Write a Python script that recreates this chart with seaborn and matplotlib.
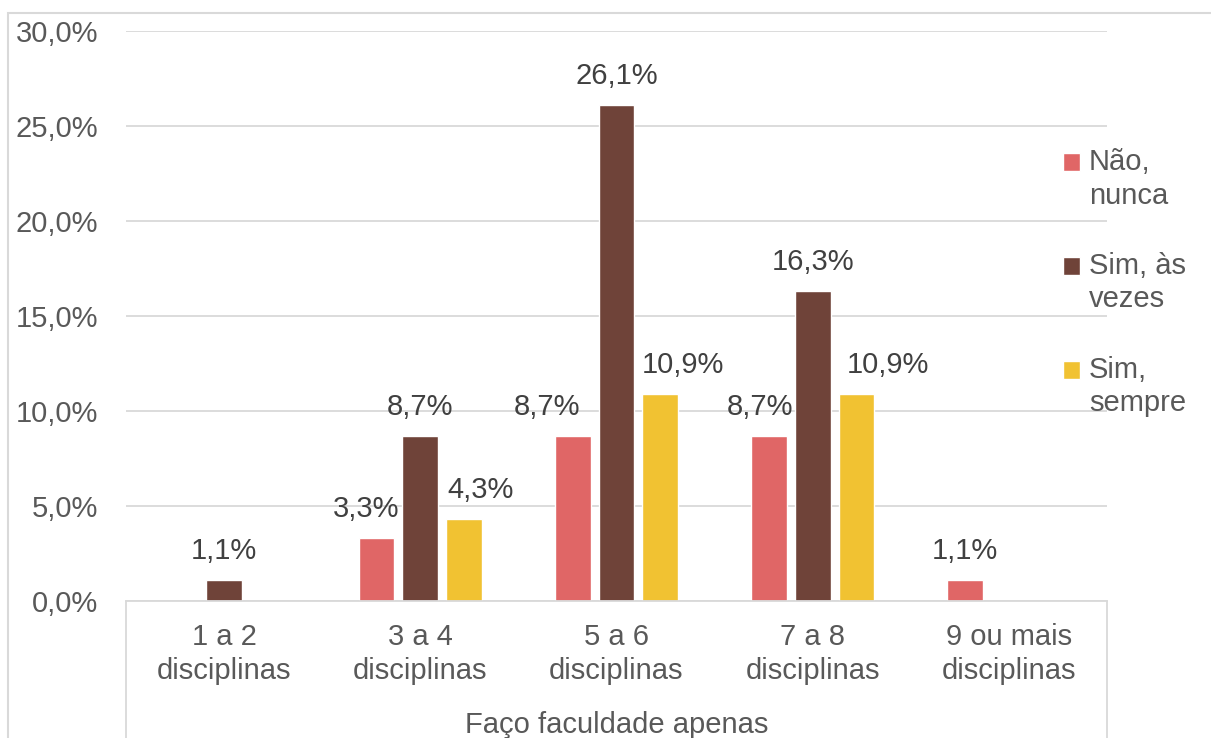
import pandas as pd
import numpy as np
import matplotlib.pyplot as plt
import seaborn as sns
from matplotlib.patches import Rectangle
from matplotlib.ticker import FuncFormatter

categories = ['1 a 2\ndisciplinas', '3 a 4\ndisciplinas', '5 a 6\ndisciplinas',
              '7 a 8\ndisciplinas', '9 ou mais\ndisciplinas']
series = ['Não,\nnunca', 'Sim, às\nvezes', 'Sim,\nsempre']
nao_nunca = [0.0, 3.3, 8.7, 8.7, 1.1]
sim_as_vezes = [1.1, 8.7, 26.1, 16.3, 0.0]
sim_sempre = [0.0, 4.3, 10.9, 10.9, 0.0]
group_label = 'Faço faculdade apenas'

colors = ['#E06666', '#6F4339', '#F1C232']

df = pd.DataFrame({
    'cat': categories * 3,
    'serie': [s for s in series for _ in categories],
    'val': nao_nunca + sim_as_vezes + sim_sempre,
})

sns.set_theme(style='white')
plt.rcParams['font.family'] = ['Liberation Sans', 'DejaVu Sans']
plt.rcParams['text.color'] = '#595959'

fig = plt.figure(figsize=(12.11, 7.38), dpi=100)
ax = fig.add_axes([126 / 1211, 1 - 601 / 738, 981 / 1211, 570 / 738])

sns.barplot(data=df, x='cat', y='val', hue='serie', palette=colors,
            width=0.67, gap=0.18, ax=ax, legend=True, saturation=1)

ax.set_xlim(-0.5, len(categories) - 0.5)
ax.set_ylim(0, 30)
ax.set_yticks(np.arange(0, 31, 5))
ax.yaxis.set_major_formatter(FuncFormatter(lambda v, p: f'{v:.1f}%'.replace('.', ',')))
ax.grid(axis='y', color='#d9d9d9', linewidth=1.3)
ax.set_axisbelow(True)
for s in ['top', 'right', 'left']:
    ax.spines[s].set_visible(False)
ax.spines['bottom'].set_color('#d9d9d9')
ax.spines['bottom'].set_linewidth(1.3)
ax.tick_params(axis='y', labelsize=21, labelcolor='#595959', pad=20, length=0)
ax.tick_params(axis='x', labelsize=21, labelcolor='#595959', pad=16, length=0)
for lbl in ax.get_xticklabels():
    lbl.set_linespacing(1.25)
ax.set_xlabel('')
ax.set_ylabel('')

# group box lines below the axis
for xx in [0, 1]:
    ax.plot([xx, xx], [0, -0.5], transform=ax.transAxes, color='#d9d9d9',
            lw=1.3, clip_on=False)
ax.text(0.5, -0.218, group_label, transform=ax.transAxes, ha='center',
        va='center', fontsize=21, color='#595959')

# data labels, nudged sideways like the original
nudges = {(0, 1): -10, (2, 1): 16, (0, 2): -26, (2, 2): 23, (0, 3): -9, (2, 3): 31}
for i, cont in enumerate(ax.containers):
    for j, bar in enumerate(cont):
        h = bar.get_height()
        if h <= 0:
            continue
        dx = nudges.get((i, j), 0) * 0.72
        ax.annotate(f'{h:.1f}%'.replace('.', ','),
                    (bar.get_x() + bar.get_width() / 2, h),
                    xytext=(dx, 21), textcoords='offset points',
                    ha='center', va='center', fontsize=21, color='#404040')

leg = ax.legend(loc='upper left', bbox_to_anchor=(925 / 981, 0.815), frameon=False,
                fontsize=21, handlelength=0.6, handleheight=0.6, handletextpad=0.3,
                labelspacing=1.45, borderaxespad=0)
for t in leg.get_texts():
    t.set_color('#595959')
    t.set_linespacing(1.25)
# square next to the first line of each label, as in Excel
for p in leg.get_patches():
    p.set_y(p.get_y() + 12.5)

# chart border
fig.patches.append(Rectangle((8 / 1211, -0.1), 1.2, 1 - 13 / 738 + 0.1,
                             transform=fig.transFigure, fill=False,
                             edgecolor='#d9d9d9', lw=1.5))

plt.savefig('out.png', dpi=100)
